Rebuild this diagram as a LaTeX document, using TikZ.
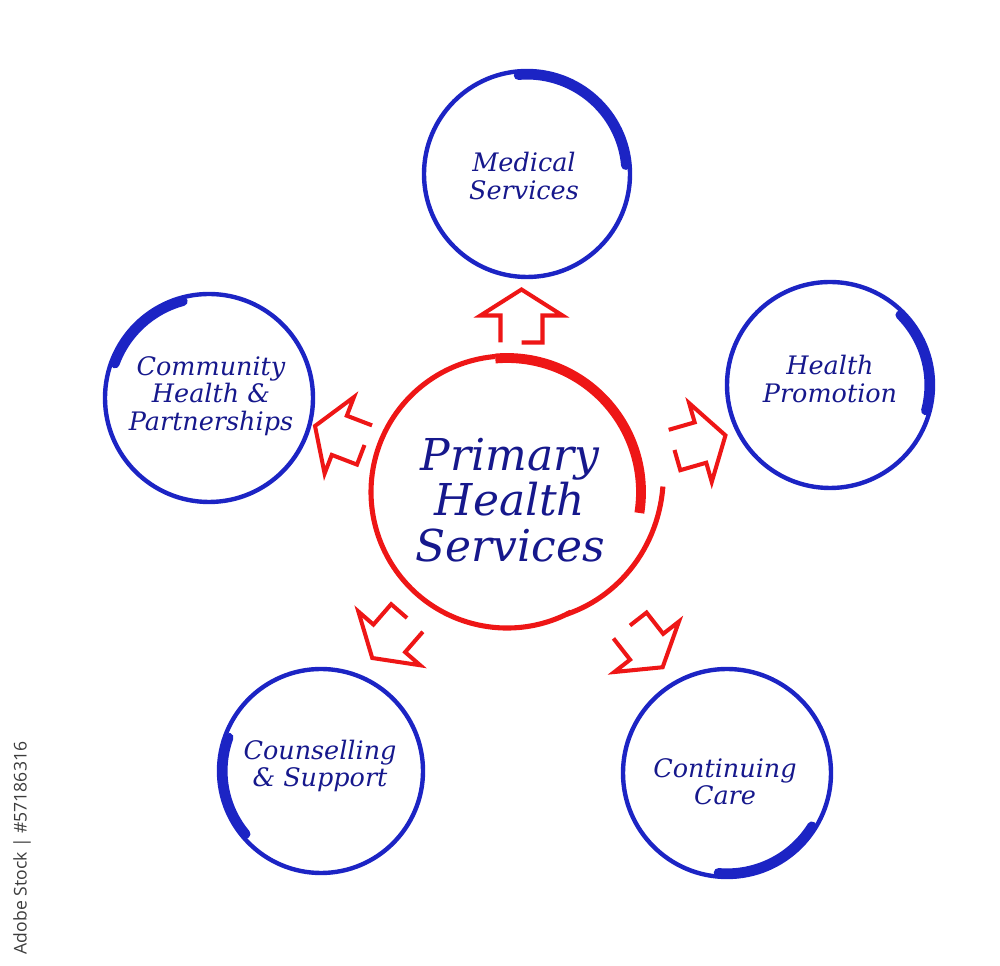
\documentclass[tikz,border=0pt]{standalone}
\usepackage{fontspec}
\setmainfont{DejaVu Serif}
\newfontfamily\stockfont{Open Sans}
\definecolor{ringblue}{RGB}{28,36,196}
\definecolor{textblue}{RGB}{22,24,140}
\definecolor{hubred}{RGB}{238,22,22}
\definecolor{stockgray}{RGB}{60,60,60}

\begin{document}
\begin{tikzpicture}[
  x=0.02cm, y=0.02cm,
  ring/.style={draw=ringblue, line width=2.5pt},
  ringbrush/.style={draw=ringblue, line width=5.2pt, line cap=round},
  hubring/.style={draw=hubred, line width=2.9pt},
  hubbrush/.style={draw=hubred, line width=5.6pt},
  arrowline/.style={draw=hubred, line width=2.3pt, line join=miter},
  ringtext/.style={text=textblue, font=\itshape\fontsize{14.5}{15.6}\selectfont, align=center},
  hubtext/.style={text=textblue, font=\itshape\fontsize{25}{26}\selectfont, align=center},
  housearrow/.pic={
    \draw[arrowline] (-21,0) -- (-21,27) -- (-41,27) -- (0,53) -- (41,27) -- (21,27) -- (21,0) -- (0,0);
  }
]
\useasboundingbox (0,0) rectangle (1000,966);

% Centres measured off the sheet, y counted from the bottom.
\coordinate (H)  at (507,474);
\coordinate (MS) at (527,792);
\coordinate (HP) at (830,581);
\coordinate (CP) at (209,568);
\coordinate (CS) at (321,195);
\coordinate (CC) at (727,193);

% Hub: thin stroke round the left, heavy brush on the upper right, loose tail.
\draw[hubring] (H) ++(-62:136) arc[start angle=-62, end angle=-265, radius=136];
\draw[hubbrush] (H) ++(95:134) arc[start angle=95, end angle=-9, radius=134];
\draw[hubring, shift={(H)}] plot[domain=2:-64, samples=30]
  ({(136+20*(\x+64)/66)*cos(\x)}, {(136+20*(\x+64)/66)*sin(\x)});

% Outer rings: full thin circle plus a heavier brush arc.
\draw[ring] (MS) circle (103);
\draw[ringbrush] (MS) ++(95:99) arc[start angle=95, end angle=5, radius=99];
\draw[ring] (HP) circle (103);
\draw[ringbrush] (HP) ++(45:99) arc[start angle=45, end angle=-15, radius=99];
\draw[ring] (CP) circle (104);
\draw[ringbrush] (CP) ++(160:100) arc[start angle=160, end angle=105, radius=100];
\draw[ring] (CS) circle (102);
\draw[ringbrush] (CS) ++(220:98) arc[start angle=220, end angle=160, radius=98];
\draw[ring] (CC) circle (104);
\draw[ringbrush] (CC) ++(-32:100) arc[start angle=-32, end angle=-95, radius=100];

% Labels
\node[hubtext] (hub) at (510,466) {Primary\\Health\\Services};
\node[ringtext] (med) at (524,790) {Medical\\Services};
\node[ringtext] (promo) at (830,587) {Health\\Promotion};
\node[ringtext] (comm) at (211,570) {Community\\Health \&\\Partnerships};
\node[ringtext] (couns) at (320,200) {Counselling\\\& Support};
\node[ringtext] (care) at (725,184) {Continuing\\Care};

% Open house arrows pointing out from the hub
\pic[rotate=0] at (521.5,623.5) {housearrow};
\pic[rotate=69, xscale=-1] at (364.5,521) {housearrow};
\pic[rotate=-74] at (674.5,516) {housearrow};
\pic[rotate=139] at (407,348) {housearrow};
\pic[rotate=-142, xscale=-1] at (630,340.5) {housearrow};

\node[rotate=90, text=stockgray, font=\stockfont\fontsize{10}{12}\selectfont] (stockid) at (22,118) {Adobe Stock | \#57186316};

\end{tikzpicture}
\end{document}
